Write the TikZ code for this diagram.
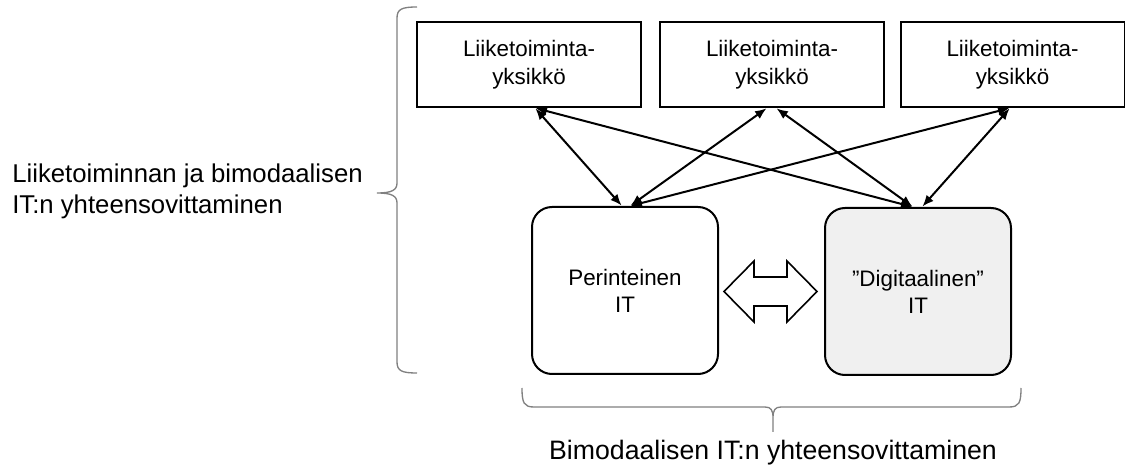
\documentclass[tikz,border=0pt]{standalone}
\usepackage{fontspec}
\setmainfont{Liberation Sans}
\usetikzlibrary{calc,arrows.meta}
\begin{document}
\begin{tikzpicture}[x=0.75pt,y=-0.75pt,
  unitbox/.style={draw,line width=1.5pt,minimum width=168pt,minimum height=63.75pt,
    inner sep=0pt,align=center,font=\fontsize{16.8}{21}\selectfont},
  itbox/.style={draw,line width=1.5pt,rounded corners=15pt,minimum width=139.5pt,
    minimum height=125.25pt,inner sep=0pt,align=center,font=\fontsize{16.8}{20.3}\selectfont},
  conn/.style={line width=1.5pt,{Latex[length=8.5pt,width=7pt]}-{Latex[length=8.5pt,width=7pt]},shorten <=0.5pt,shorten >=0.5pt},
  brace/.style={draw=black!50,line width=1pt},
  label/.style={inner sep=0pt}]
\useasboundingbox (0,0) rectangle (1125,466);

% business units
\node[unitbox] (B1) at (529,64.5) {Liiketoiminta-\\yksikkö};
\node[unitbox] (B2) at (772,64.5) {Liiketoiminta-\\yksikkö};
\node[unitbox] (B3) at (1012.5,64.5) {Liiketoiminta-\\yksikkö};

% the two IT modes
\node[itbox] (P) at (625,290.5) {Perinteinen\\IT};
\node[itbox,fill=black!6] (D) at (918,291.5) {”Digitaalinen”\\IT};

% alignment links
\draw[conn] ($(B1.south)+(6,0)$) -- ($(P.north)+(-3,0)$);
\draw[conn] ($(B1.south)+(6,0)$) -- ($(D.north)+(-5,0)$);
\draw[conn] ($(B2.south)+(-5,0)$) -- ($(P.north)+(5,0)$);
\draw[conn] ($(B2.south)+(4,0)$) -- ($(D.north)+(-5,0)$);
\draw[conn] ($(B3.south)+(-2.5,0)$) -- ($(P.north)+(5,0)$);
\draw[conn] ($(B3.south)+(-2.5,0)$) -- ($(D.north)+(4,0)$);

% block double arrow between the IT modes
\draw[line width=1.2pt,line join=miter] (724,291.5) -- (754,261) -- (754,277) -- (787,277)
  -- (787,261) -- (817,291.5) -- (787,322) -- (787,306) -- (754,306) -- (754,322) -- cycle;

% left brace and its label
\draw[brace] (417,7) .. controls (402,7) and (397,9) .. (397,18) -- (397,183)
  .. controls (397,190) and (392,193) .. (377,193)
  .. controls (392,193) and (397,196) .. (397,203) -- (397,362)
  .. controls (397,371) and (402,373) .. (417,373);
\node[label,anchor=west,align=left,font=\fontsize{19.3}{23.3}\selectfont] (L) at (12,191)
  {Liiketoiminnan ja bimodaalisen\\IT:n yhteensovittaminen};

% bottom brace and its label
\draw[brace] (522,388) .. controls (522,403) and (524,407) .. (534,407) -- (765,407)
  .. controls (771,407) and (773,410) .. (773,418) -- (773,432) -- (773,418)
  .. controls (773,410) and (775,407) .. (781,407) -- (1009,407)
  .. controls (1019,407) and (1021,403) .. (1021,388);
\node[label,anchor=base,font=\fontsize{20}{24}\selectfont] (Bt) at (773,460) {Bimodaalisen IT:n yhteensovittaminen};
\end{tikzpicture}
\end{document}
